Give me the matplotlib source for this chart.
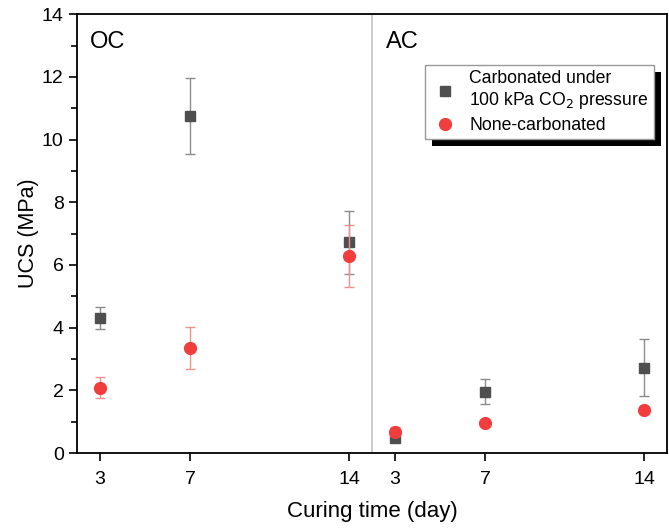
import matplotlib
matplotlib.use('Agg')
import matplotlib.pyplot as plt
from matplotlib.patches import Rectangle
from matplotlib.lines import Line2D
from matplotlib.transforms import IdentityTransform

plt.rcParams['font.family'] = ['Liberation Sans', 'DejaVu Sans']

days = [3, 7, 14]
day_labels = ['3', '7', '14', '3', '7', '14']

# OC group
oc_carb = [4.31, 10.75, 6.72]
oc_carb_err = [0.36, 1.22, 1.0]
oc_none = [2.09, 3.35, 6.30]
oc_none_err = [0.32, 0.68, 0.99]

# AC group
ac_carb = [0.48, 1.96, 2.72]
ac_carb_err = [0.12, 0.39, 0.91]
ac_none = [0.68, 0.97, 1.38]
ac_none_err = [0.15, 0.05, 0.05]

ac_shift = 13  # AC days drawn to the right of the divider
split = 15

x_oc = days
x_ac = [d + ac_shift for d in days]

sq_col = '#4f4f4f'
sq_err = '#8c8c8c'
rd_col = '#f23d3d'
rd_err = '#f29090'

fig, ax = plt.subplots(figsize=(6.69, 5.28), dpi=100)
fig.subplots_adjust(left=0.115, right=0.997, top=0.973, bottom=0.142)

ax.errorbar(x_oc + x_ac, oc_carb + ac_carb, yerr=oc_carb_err + ac_carb_err,
            fmt='s', color=sq_col, ecolor=sq_err, ms=7.5, capsize=3.5,
            elinewidth=1, capthick=1, zorder=3)
ax.errorbar(x_oc + x_ac, oc_none + ac_none, yerr=oc_none_err + ac_none_err,
            fmt='o', color=rd_col, ecolor=rd_err, ms=8.5, capsize=3.5,
            elinewidth=1, capthick=1, zorder=4)

ax.axvline(split, color='#c8c8c8', lw=1.3, zorder=1)

ax.set_xlim(2, 28)
ax.set_ylim(0, 14)
ax.set_xticks(x_oc + x_ac)
ax.set_xticklabels(day_labels)
ax.set_yticks(range(0, 15, 2))
ax.set_yticks(range(1, 14, 2), minor=True)
ax.tick_params(axis='both', which='major', direction='out', length=6,
               width=1.2, labelsize=14)
ax.tick_params(axis='x', which='major', pad=7)
ax.tick_params(axis='y', which='minor', direction='out', length=4, width=1.2)
for s in ax.spines.values():
    s.set_linewidth(1.3)

ax.set_xlabel('Curing time (day)', fontsize=16, labelpad=9)
ax.set_ylabel('UCS (MPa)', fontsize=15.5, labelpad=2)

ax.text(2.55, 13.1, 'OC', fontsize=17, va='center')
ax.text(15.6, 13.1, 'AC', fontsize=17, va='center')

handles = [
    Line2D([], [], ls='none', marker='s', color=sq_col, ms=7.5),
    Line2D([], [], ls='none', marker='o', color=rd_col, ms=8.5),
]
labels = ['Carbonated under\n100 kPa CO$_2$ pressure', 'None-carbonated']
leg = ax.legend(handles, labels, loc='upper left', bbox_to_anchor=(0.59, 0.885),
                borderaxespad=0, fancybox=False, edgecolor='#999999',
                framealpha=1, fontsize=12.7, handletextpad=0.5, borderpad=0.3,
                labelspacing=0.35, handlelength=1.7)
leg.get_frame().set_linewidth(1)
for t in leg.get_texts():
    t.set_multialignment('left')

# black drop shadow behind the legend
fig.canvas.draw()
bb = leg.get_window_extent()
shadow = Rectangle((bb.x0 + 7, bb.y0 - 7), bb.width, bb.height,
                   transform=IdentityTransform(), facecolor='black',
                   edgecolor='none', zorder=4.5)
ax.add_artist(shadow)

fig.savefig('out.png', dpi=100)
